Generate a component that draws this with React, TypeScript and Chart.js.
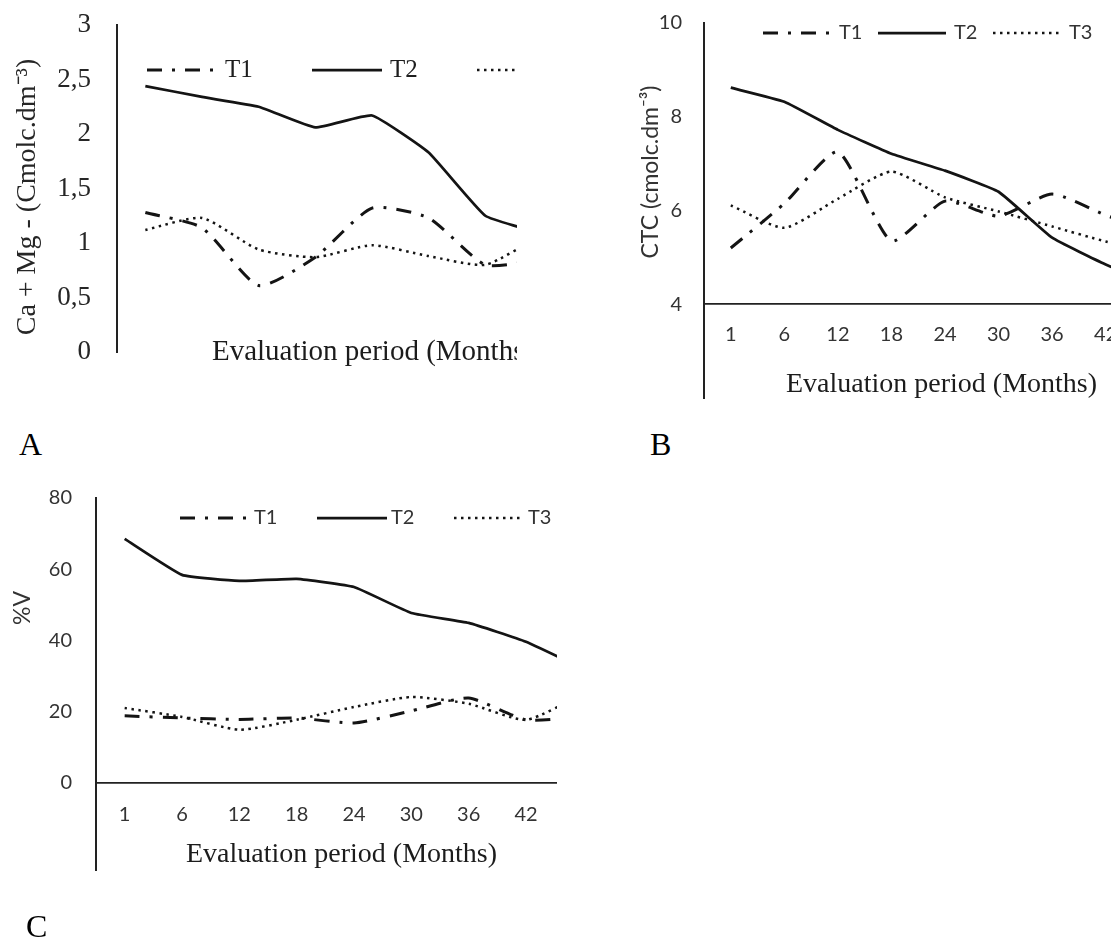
import React, { useEffect, useRef } from 'react';
import { Chart, registerables } from 'chart.js';

Chart.register(...registerables);

// ---------------- data ----------------
const months = ['1', '6', '12', '18', '24', '30', '36', '42', '48'];
const seriesNames = ['T1', 'T2', 'T3'];

// A: Ca + Mg (cmolc.dm-3)
const caMgT1 = [1.28, 1.14, 0.61, 0.87, 1.32, 1.23, 0.8, 0.85, 0.9];
const caMgT2 = [2.44, 2.34, 2.25, 2.06, 2.17, 1.83, 1.25, 1.09, 1.0];
const caMgT3 = [1.12, 1.23, 0.94, 0.87, 0.98, 0.88, 0.8, 1.05, 1.0];
const caMgTicks = [0, 0.5, 1, 1.5, 2, 2.5, 3];
const caMgTickLabels = ['0', '0,5', '1', '1,5', '2', '2,5', '3'];

// B: CTC (cmolc.dm-3)
const ctcT1 = [5.2, 6.15, 7.25, 5.35, 6.2, 5.88, 6.35, 5.9, 5.5];
const ctcT2 = [8.62, 8.32, 7.72, 7.21, 6.85, 6.4, 5.42, 4.85, 4.4];
const ctcT3 = [6.11, 5.63, 6.25, 6.83, 6.28, 5.98, 5.66, 5.34, 5.1];
const ctcTicks = [4, 6, 8, 10];
const ctcTickLabels = ['4', '6', '8', '10'];

// C: %V
const vT1 = [18.8, 18.2, 17.8, 18.2, 16.8, 20.2, 23.8, 17.7, 18.5];
const vT2 = [68.5, 58.4, 56.7, 57.3, 55.0, 47.7, 44.9, 39.6, 32.0];
const vT3 = [21.0, 18.5, 14.9, 17.7, 21.3, 24.1, 22.2, 17.7, 25.0];
const vTicks = [0, 20, 40, 60, 80];
const vTickLabels = ['0', '20', '40', '60', '80'];

// ---------------- styles ----------------
const LINE = '#141414';
const AXIS = '#222222';
const GREY = '#333333';
const SERIF = '"Liberation Serif", "Times New Roman", serif';
const SANS = 'Lato, "Open Sans", sans-serif';

const lineStyles = [
  { borderDash: [15, 10, 3, 10], borderWidth: 3, tension: 0.2 },
  { borderDash: [] as number[], borderWidth: 2.75, tension: 0.12 },
  { borderDash: [2.5, 4.5], borderWidth: 2.5, tension: 0.2 },
];

type LegendCfg = { left: number; y: number; spacing: number; sample: number; gap: number; font: string; color: string };
type TitleCfg = { text: string; x: number; y: number; font: string; color: string };

function legendPlugin(cfg: LegendCfg) {
  return {
    id: 'panelLegend',
    afterDraw(chart: any) {
      const ctx = chart.ctx as CanvasRenderingContext2D;
      chart.data.datasets.forEach((ds: any, i: number) => {
        const x0 = cfg.left + i * cfg.spacing;
        ctx.save();
        ctx.strokeStyle = ds.borderColor;
        ctx.lineWidth = ds.borderWidth;
        ctx.lineCap = 'butt';
        ctx.setLineDash(ds.borderDash || []);
        ctx.beginPath();
        ctx.moveTo(x0, cfg.y);
        ctx.lineTo(x0 + cfg.sample, cfg.y);
        ctx.stroke();
        ctx.setLineDash([]);
        ctx.font = cfg.font;
        ctx.fillStyle = cfg.color;
        ctx.textAlign = 'left';
        ctx.textBaseline = 'middle';
        ctx.fillText(ds.label, x0 + cfg.sample + cfg.gap, cfg.y);
        ctx.restore();
      });
    },
  };
}

function titlesPlugin(xt: TitleCfg, yt: TitleCfg) {
  return {
    id: 'panelTitles',
    afterDraw(chart: any) {
      const ctx = chart.ctx as CanvasRenderingContext2D;
      ctx.save();
      ctx.font = xt.font;
      ctx.fillStyle = xt.color;
      ctx.textAlign = 'center';
      ctx.textBaseline = 'alphabetic';
      ctx.fillText(xt.text, xt.x, xt.y);
      ctx.restore();
      ctx.save();
      ctx.translate(yt.x, yt.y);
      ctx.rotate(-Math.PI / 2);
      ctx.font = yt.font;
      ctx.fillStyle = yt.color;
      ctx.textAlign = 'center';
      ctx.textBaseline = 'middle';
      ctx.fillText(yt.text, 0, 0);
      ctx.restore();
    },
  };
}

type PanelProps = {
  left: number;
  top: number;
  clipWidth: number;
  width: number;
  height: number;
  series: number[][];
  padTop: number;
  padBottom: number;
  yWidth: number;
  yTickLen: number;
  yMin: number;
  yMax: number;
  yStep: number;
  yTicks: number[];
  yTickLabels: string[];
  yTickFont: { family: string; size: number };
  yTickColor: string;
  xAxisAt: number | null;
  xTickLen: number;
  legend: LegendCfg;
  xTitle: TitleCfg;
  yTitle: TitleCfg;
};

function LinePanel(p: PanelProps) {
  const ref = useRef<HTMLCanvasElement | null>(null);
  useEffect(() => {
    if (!ref.current) return;
    const xScale: any =
      p.xAxisAt === null
        ? { type: 'category', offset: true, display: false }
        : {
            type: 'category',
            offset: true,
            position: { y: p.xAxisAt },
            grid: { display: false, drawTicks: true, tickLength: p.xTickLen },
            border: { display: true, color: AXIS, width: 1.75 },
            ticks: {
              font: { family: SANS, size: 20 },
              color: GREY,
              padding: 0,
              autoSkip: false,
              maxRotation: 0,
              minRotation: 0,
            },
          };
    const chart = new Chart(ref.current, {
      type: 'line',
      data: {
        labels: months,
        datasets: p.series.map((vals, i) => ({
          label: seriesNames[i],
          data: vals,
          borderColor: LINE,
          backgroundColor: LINE,
          fill: false,
          pointRadius: 0,
          pointHoverRadius: 0,
          ...lineStyles[i],
        })),
      },
      options: {
        responsive: false,
        animation: false,
        events: [],
        layout: { padding: { left: 0, right: 0, top: p.padTop, bottom: p.padBottom }, autoPadding: false } as any,
        plugins: { legend: { display: false }, tooltip: { enabled: false } },
        scales: {
          x: xScale,
          y: {
            type: 'linear',
            position: 'left',
            min: p.yMin,
            max: p.yMax,
            ticks: {
              stepSize: p.yStep,
              font: p.yTickFont,
              color: p.yTickColor,
              padding: 0,
              callback: (_v: any, i: number) => p.yTickLabels[i],
            },
            afterBuildTicks: (s: any) => {
              s.ticks = p.yTicks.map((value) => ({ value }));
            },
            afterFit: (s: any) => {
              s.width = p.yWidth;
            },
            grid: { display: false, drawTicks: true, tickLength: p.yTickLen },
            border: { display: true, color: AXIS, width: 2 },
          } as any,
        },
      },
      plugins: [legendPlugin(p.legend), titlesPlugin(p.xTitle, p.yTitle)],
    });
    return () => chart.destroy();
  }, []);
  return (
    <div
      style={{
        position: 'absolute',
        left: p.left,
        top: p.top,
        width: p.clipWidth,
        height: p.height,
        overflow: 'hidden',
      }}
    >
      <canvas ref={ref} width={p.width} height={p.height} style={{ display: 'block', width: p.width, height: p.height }} />
    </div>
  );
}

const letterStyle: React.CSSProperties = {
  position: 'absolute',
  fontFamily: SERIF,
  fontSize: 32,
  lineHeight: '32px',
  color: '#000',
};

export default function App() {
  return (
    <div style={{ position: 'absolute', left: 0, top: 0, width: 1111, height: 939, background: '#fff', overflow: 'hidden' }}>
      {/* Panel A */}
      <LinePanel
        left={0}
        top={0}
        clipWidth={517}
        width={627}
        height={410}
        series={[caMgT1, caMgT2, caMgT3]}
        padTop={25}
        padBottom={58}
        yWidth={117}
        yTickLen={26}
        yMin={0}
        yMax={3}
        yStep={0.5}
        yTicks={caMgTicks}
        yTickLabels={caMgTickLabels}
        yTickFont={{ family: SERIF, size: 27 }}
        yTickColor="#262626"
        xAxisAt={null}
        xTickLen={0}
        legend={{ left: 147, y: 70, spacing: 165, sample: 70, gap: 8, font: `25px ${SERIF}`, color: '#1e1e1e' }}
        xTitle={{ text: 'Evaluation period (Months)', x: 373, y: 360, font: `29px ${SERIF}`, color: '#1c1c1c' }}
        yTitle={{ text: 'Ca + Mg - (Cmolc.dm⁻³)', x: 28, y: 197, font: `28px ${SERIF}`, color: '#262626' }}
      />
      {/* Panel B */}
      <LinePanel
        left={620}
        top={0}
        clipWidth={491}
        width={566}
        height={410}
        series={[ctcT1, ctcT2, ctcT3]}
        padTop={23}
        padBottom={11}
        yWidth={84}
        yTickLen={22}
        yMin={2}
        yMax={10}
        yStep={2}
        yTicks={ctcTicks}
        yTickLabels={ctcTickLabels}
        yTickFont={{ family: SANS, size: 20 }}
        yTickColor={GREY}
        xAxisAt={4}
        xTickLen={18}
        legend={{ left: 143, y: 33, spacing: 115, sample: 68, gap: 8, font: `20px ${SANS}`, color: GREY }}
        xTitle={{ text: 'Evaluation period (Months)', x: 321.5, y: 392, font: `28px ${SERIF}`, color: '#1c1c1c' }}
        yTitle={{ text: 'CTC (cmolc.dm⁻³)', x: 31, y: 172, font: `23px ${SANS}`, color: GREY }}
      />
      {/* Panel C */}
      <LinePanel
        left={0}
        top={470}
        clipWidth={557}
        width={612}
        height={469}
        series={[vT1, vT2, vT3]}
        padTop={28}
        padBottom={69}
        yWidth={96}
        yTickLen={24}
        yMin={-24.5}
        yMax={80}
        yStep={20}
        yTicks={vTicks}
        yTickLabels={vTickLabels}
        yTickFont={{ family: SANS, size: 20 }}
        yTickColor={GREY}
        xAxisAt={0}
        xTickLen={20}
        legend={{ left: 180, y: 48, spacing: 137, sample: 70, gap: 4, font: `20px ${SANS}`, color: GREY }}
        xTitle={{ text: 'Evaluation period (Months)', x: 341.5, y: 392, font: `28px ${SERIF}`, color: '#1c1c1c' }}
        yTitle={{ text: '%V', x: 23, y: 138, font: `23px ${SANS}`, color: GREY }}
      />
      <div style={{ ...letterStyle, left: 19, top: 428 }}>A</div>
      <div style={{ ...letterStyle, left: 650, top: 428 }}>B</div>
      <div style={{ ...letterStyle, left: 26, top: 910 }}>C</div>
    </div>
  );
}
